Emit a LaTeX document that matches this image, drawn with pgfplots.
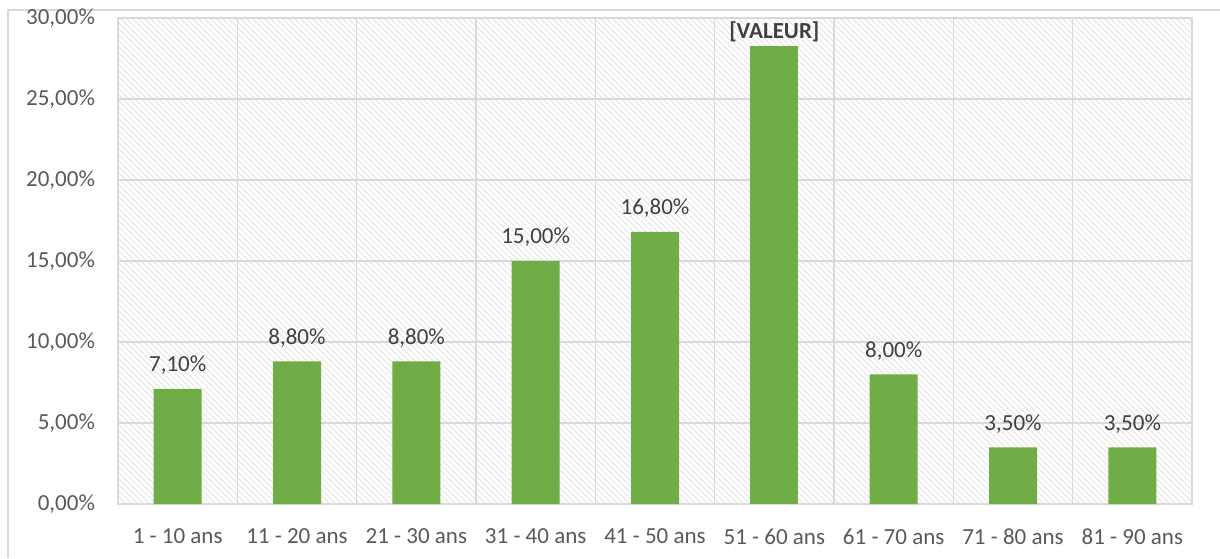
\documentclass[border=0pt]{standalone}
\usepackage{pgfplots}
\pgfplotsset{compat=1.18}
\usepackage{fontspec}
\setmainfont{Carlito}
\usetikzlibrary{patterns}
\definecolor{barg}{HTML}{70AD47}
\definecolor{gridc}{HTML}{D9D9D9}
\definecolor{tickc}{HTML}{595959}
\definecolor{labc}{HTML}{404040}
\begin{document}
\begin{tikzpicture}
\path[use as bounding box] (0,0) rectangle (610pt,279pt);
\draw[gridc, line width=1pt] (4pt,0) -- (4pt,274pt) -- (610pt,274pt);
\begin{axis}[
  at={(59pt,27pt)}, anchor=south west,
  scale only axis, width=537pt, height=243pt,
  ymin=0, ymax=30, xmin=-0.5, xmax=8.5,
  ytick={0,5,...,30},
  yticklabels={0{,}00\%,5{,}00\%,10{,}00\%,15{,}00\%,20{,}00\%,25{,}00\%,30{,}00\%},
  xtick={0,...,8},
  xticklabels={1 - 10 ans,11 - 20 ans,21 - 30 ans,31 - 40 ans,41 - 50 ans,51 - 60 ans,61 - 70 ans,71 - 80 ans,81 - 90 ans},
  minor xtick={-0.5,0.5,...,8.5},
  xminorgrids, ymajorgrids,
  grid style={gridc, line width=0.8pt},
  minor grid style={gridc, line width=0.8pt},
  axis line style={gridc, line width=0.8pt},
  major tick length=0pt, minor tick length=0pt,
  tick label style={font=\fontsize{11.5}{13}\selectfont, text=tickc},
  xticklabel style={yshift=-9pt},
  yticklabel style={xshift=-8pt},
  axis background/.style={pattern=north west lines, pattern color=black!11},
  ybar, bar width=24pt,
  point meta=explicit symbolic,
  nodes near coords,
  every node near coord/.append style={font=\fontsize{11.5}{13}\selectfont, text=labc, yshift=3.5pt},
]
\addplot[fill=barg, draw=none, bar shift=0pt] coordinates {
(0,7.1) [7{,}10\%]
(1,8.8) [8{,}80\%]
(2,8.8) [8{,}80\%]
(3,15.0) [15{,}00\%]
(4,16.8) [16{,}80\%]
(6,8.0) [8{,}00\%]
(7,3.5) [3{,}50\%]
(8,3.5) [3{,}50\%]
};
\addplot[fill=barg, draw=none, bar shift=0pt,
  every node near coord/.append style={yshift=-5pt}] coordinates {
(5,28.3) [{\textbf{[VALEUR]}}]
};
\end{axis}
\end{tikzpicture}
\end{document}
